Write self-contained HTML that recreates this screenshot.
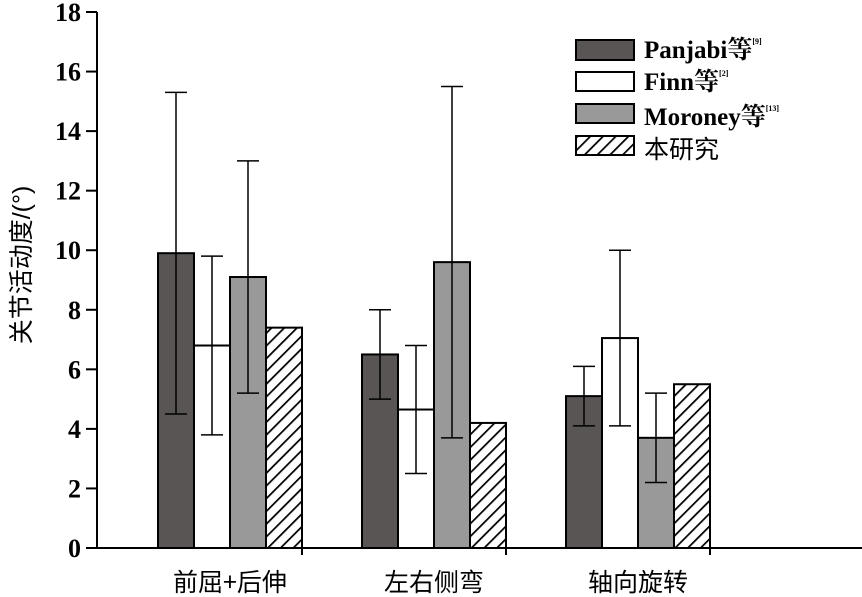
<!DOCTYPE html>
<html><head><meta charset="utf-8"><style>
html,body{margin:0;padding:0;background:#fff;}
svg{display:block;}
</style></head><body>
<svg id="chart" width="862" height="597" xmlns="http://www.w3.org/2000/svg">
<defs>
<pattern id="hatch" patternUnits="userSpaceOnUse" width="9" height="9" patternTransform="rotate(45)">
<rect width="9" height="9" fill="#fff"/><line x1="0" y1="0" x2="0" y2="9" stroke="#000" stroke-width="3.5"/>
</pattern>
</defs>
<g id="bars"></g>
<g id="axes"></g>
<g id="legend">
<rect x="576" y="40" width="58" height="20" fill="#595555" stroke="#000" stroke-width="2"/>
<text x="644" y="58" font-family="Liberation Serif, Noto Serif CJK SC, serif" font-size="25" font-weight="bold">Panjabi等<tspan font-size="8" dy="-14">[9]</tspan></text>
<rect x="576" y="72" width="58" height="19" fill="#fff" stroke="#000" stroke-width="2"/>
<text x="644" y="90" font-family="Liberation Serif, Noto Serif CJK SC, serif" font-size="25" font-weight="bold">Finn等<tspan font-size="8" dy="-14">[2]</tspan></text>
<rect x="576" y="104" width="58" height="19" fill="#999" stroke="#000" stroke-width="2"/>
<text x="644" y="125" font-family="Liberation Serif, Noto Serif CJK SC, serif" font-size="25" font-weight="bold">Moroney等<tspan font-size="8" dy="-14">[13]</tspan></text>
<rect x="576" y="136" width="58" height="19" fill="url(#hatch)" stroke="#000" stroke-width="2"/>
<text x="644" y="158" font-family="Noto Sans CJK SC, sans-serif" font-size="25">本研究</text>
</g>
<text transform="translate(30,265) rotate(-90)" text-anchor="middle" font-family="Liberation Sans, Noto Sans CJK SC, sans-serif" font-size="25">关节活动度/(°)</text>
<script>
const categories=["前屈+后伸","左右侧弯","轴向旋转"];
const panjabi=[9.9,6.5,5.1];
const panjabiErr=[5.4,1.5,1.0];
const finn=[6.8,4.65,7.05];
const finnErr=[3.0,2.15,2.95];
const moroney=[9.1,9.6,3.7];
const moroneyErr=[3.9,5.9,1.5];
const thisStudy=[7.4,4.2,5.5];
const yTicks=[0,2,4,6,8,10,12,14,16,18];
const NS="http://www.w3.org/2000/svg";
const y0=548,yTop=12,yMax=18;
function yS(v){return y0-(y0-yTop)*v/yMax;}
function gC(i){return 230+204*i;}
const bw=36;
const series=[
{name:"panjabi",vals:panjabi,err:panjabiErr,fill:"#595555"},
{name:"finn",vals:finn,err:finnErr,fill:"#fff"},
{name:"moroney",vals:moroney,err:moroneyErr,fill:"#999"},
{name:"this-study",vals:thisStudy,err:null,fill:"url(#hatch)"}];
const bars=document.getElementById('bars');
function mk(tag,attrs,parent){const e=document.createElementNS(NS,tag);for(const k in attrs)e.setAttribute(k,attrs[k]);parent.appendChild(e);return e;}
series.forEach((s,si)=>{
categories.forEach((c,ci)=>{
const x=gC(ci)-2*bw+si*bw;const v=s.vals[ci];
const r=mk('rect',{x:x,y:yS(v),width:bw,height:y0-yS(v),fill:s.fill,stroke:"#000","stroke-width":2},bars);


if(s.err){
const cx=x+bw/2,lo=yS(v-s.err[ci]),hi=yS(v+s.err[ci]);
const g=mk('g',{stroke:"#000","stroke-width":1.5},bars);


mk('line',{x1:cx,y1:lo,x2:cx,y2:hi},g);
mk('line',{x1:cx-11,y1:lo,x2:cx+11,y2:lo},g);
mk('line',{x1:cx-11,y1:hi,x2:cx+11,y2:hi},g);
}
});
});
const ax=document.getElementById('axes');
const yl=mk('line',{x1:97,y1:yTop,x2:97,y2:y0,stroke:"#000","stroke-width":2},ax);


const xl=mk('line',{x1:97,y1:y0,x2:862,y2:y0,stroke:"#000","stroke-width":2},ax);


yTicks.forEach(t=>{
const l=mk('line',{x1:86,y1:yS(t),x2:97,y2:yS(t),stroke:"#000","stroke-width":2},ax);


const tx=mk('text',{x:81,y:yS(t)+9,"text-anchor":"end","font-family":"Liberation Serif, serif","font-size":26,"font-weight":"bold"},ax);
tx.textContent=t;


});
categories.forEach((c,ci)=>{
const l=mk('line',{x1:gC(ci)+2*bw,y1:y0,x2:gC(ci)+2*bw,y2:y0+7,stroke:"#000","stroke-width":2},ax);


const tx=mk('text',{x:gC(ci),y:591,"text-anchor":"middle","font-family":"Noto Sans CJK SC, sans-serif","font-size":25},ax);
tx.textContent=c;


});
</script>
</svg>
</body></html>
